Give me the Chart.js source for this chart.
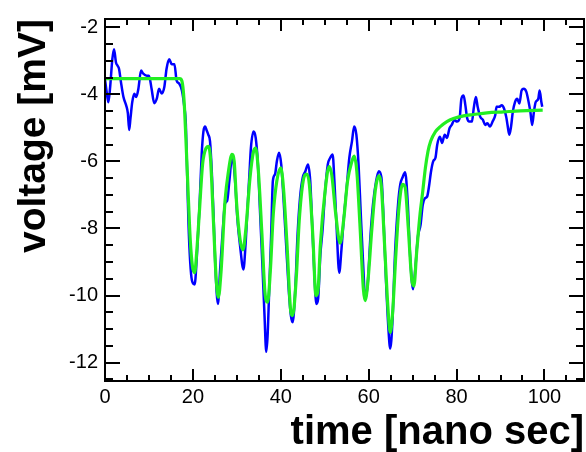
<!DOCTYPE html>
<html>
<head>
<meta charset="utf-8">
<script src="https://cdn.jsdelivr.net/npm/chart.js@4.4.1/dist/chart.umd.min.js"></script>
<style>
  html, body { margin: 0; padding: 0; background: #fff; }
  #wrap { width: 586px; height: 452px; }
</style>
</head>
<body>
<div id="wrap"><canvas id="chart"></canvas></div>
<script>
// measured pulse (blue)
const blueTime = [0, 0.4, 0.76, 1.14, 1.67, 2.05, 2.5, 2.9, 3.2, 3.64, 4.2, 4.8, 5.2, 5.5, 5.8, 6.2, 6.7, 7.1, 7.6, 8.2,
  8.7, 9.5, 10, 10.6, 11.2, 11.8, 12.3, 12.9, 13.5, 14, 14.6, 15.2, 15.8, 16.3, 16.9, 17.5, 18, 18.4, 18.7, 19,
  19.4, 19.8, 20.4, 20.9, 21.5, 22, 22.4, 22.8, 23.1, 23.5, 23.9, 24.3, 24.7, 25.1, 25.7, 26.2, 26.8, 27.3, 27.8, 28.3,
  28.9, 29.2, 29.7, 30.1, 30.75, 31.5, 32, 32.4, 32.9, 33.2, 33.8, 34.3, 34.8, 35.3, 35.8, 36.3, 36.7, 37, 37.4, 37.8,
  38.2, 38.7, 39.1, 39.6, 40.1, 40.6, 41.2, 41.8, 42.3, 42.7, 43.3, 43.8, 44.4, 45, 45.6, 46.2, 46.7, 47.2, 47.7, 48.1,
  48.5, 49, 49.5, 50.1, 50.7, 51.25, 51.8, 52.2, 52.7, 53.3, 53.8, 54.3, 55, 55.6, 56.2, 56.7, 57.2, 57.7, 58.2, 58.8,
  59.2, 59.8, 60.4, 61, 61.7, 62.3, 62.9, 63.4, 63.9, 64.5, 64.9, 65.4, 66, 66.7, 67.2, 67.7, 68.3, 68.9, 69.4, 70.1,
  70.6, 71.2, 71.8, 72.3, 72.8, 73.3, 73.7, 74.2, 74.7, 75.2, 75.6, 76.2, 76.7, 77.3, 77.8, 78.4, 78.9, 79.5, 80.1, 80.7,
  81.1, 81.6, 82, 82.4, 82.9, 83.5, 83.9, 84.4, 84.8, 85.4, 86, 86.5, 87, 87.6, 88.2, 88.8, 89.1, 89.7, 90.3, 90.8,
  91.3, 91.6, 92, 92.4, 92.8, 93.3, 93.8, 94.3, 94.8, 95.3, 95.9, 96.4, 96.8, 97.2, 97.6, 98, 98.6, 98.9, 99.3, 99.5];
const blueVolt = [-3.55, -3.95, -4.23, -3.83, -2.95, -2.65, -3.05, -3.15, -3.24, -3.64, -4.08, -4.32, -4.56, -5.06, -4.71, -4.23, -3.98, -4.08, -3.83, -3.29,
  -3.38, -3.44, -3.44, -3.83, -4.26, -4.12, -3.83, -3.97, -3.78, -3.24, -2.95, -3.1, -3.1, -3.59, -3.68, -3.88, -4.32, -4.9, -6.4, -7.86,
  -9.03, -9.56, -9.67, -8.83, -7.36, -5.79, -5.1, -4.96, -5.06, -5.2, -5.4, -6.3, -7.6, -9.1, -10.25, -9.22, -8.05, -7.26, -7.17, -6.58,
  -5.89, -5.99, -6.77, -7.66, -8.53, -9.22, -8.44, -7.46, -6.29, -5.6, -5.11, -5.3, -6.09, -7.56, -9.03, -10.6, -11.68, -11.2, -9.7, -8.24,
  -6.58, -6.38, -6.0, -5.74, -6.09, -7.06, -8.44, -9.81, -10.6, -10.8, -9.81, -8.24, -7.06, -6.48, -6.29, -6.09, -6.58, -8.05, -9.52, -10.25,
  -10.1, -8.8, -8.05, -6.87, -6.09, -5.89, -5.79, -6.58, -7.95, -9.32, -8.64, -7.76, -6.77, -5.89, -5.4, -4.96, -5.2, -6.09, -7.56, -9.22,
  -10.1, -9.62, -8.24, -7.26, -6.58, -6.29, -6.48, -7.76, -9.42, -11.0, -11.58, -10.8, -8.74, -7.26, -6.68, -6.48, -6.32, -7.26, -8.74, -9.81,
  -9.22, -8.24, -7.9, -7.3, -7.1, -7.05, -6.77, -6.29, -5.99, -5.89, -5.5, -5.26, -5.45, -5.2, -5.3, -5.01, -4.91, -4.76, -4.81, -4.7,
  -4.13, -4.03, -4.32, -4.7, -4.81, -4.81, -4.42, -4.08, -4.37, -4.67, -4.76, -4.91, -4.86, -4.96, -4.81, -4.62, -4.37, -4.37, -4.32, -4.42,
  -4.67, -4.91, -5.2, -4.96, -4.52, -4.23, -4.13, -4.27, -3.88, -3.83, -3.93, -4.23, -4.52, -4.91, -4.52, -4.23, -4.13, -3.88, -4.23, -4.37];

// fitted curve (green)
const fitTime = [0, 17.0, 17.5, 18.0, 18.4, 18.9, 19.4, 19.9, 20.4, 20.9, 21.5, 22.2, 23.0, 23.5, 24.0, 24.7, 25.3, 25.8, 26.4, 27.3,
  28.1, 28.9, 29.4, 29.95, 30.75, 31.4, 32.1, 33.0, 33.8, 34.3, 34.9, 35.7, 36.4, 37.0, 37.6, 38.3, 39.1, 40.0, 40.6, 41.4,
  42.3, 42.7, 43.5, 44.2, 45.1, 45.9, 46.5, 47.3, 48.0, 48.5, 49.0, 50.1, 51.0, 51.6, 52.5, 53.5, 54.3, 55.2, 56.2, 56.7,
  57.3, 58.0, 58.8, 59.2, 59.8, 60.7, 61.5, 62.3, 62.9, 63.6, 64.4, 64.9, 65.4, 66.2, 66.9, 67.7, 68.3, 69.0, 69.8, 70.3,
  70.9, 71.7, 72.3, 72.9, 73.5, 74.1, 75.2, 76.3, 77.8, 79.3, 81.6, 83.9, 86.9, 90.7, 94.5, 99.6];
const fitVolt = [-3.53, -3.53, -3.6, -4.2, -5.3, -6.87, -8.34, -9.13, -9.32, -8.64, -7.46, -6.09, -5.6, -5.55, -5.9, -7.85, -9.5, -10.05, -9.3, -7.2,
  -6.29, -5.79, -6.0, -7.26, -8.34, -8.64, -7.95, -6.48, -5.7, -5.6, -6.29, -8.15, -9.91, -10.2, -9.32, -7.56, -6.58, -6.19, -6.77, -8.44,
  -10.5, -10.6, -9.52, -7.76, -6.58, -6.38, -6.68, -8.24, -10.0, -9.8, -8.5, -6.87, -6.15, -6.4, -7.56, -8.44, -7.76, -6.58, -5.99, -5.84,
  -6.29, -7.85, -9.81, -10.15, -9.62, -8.05, -6.87, -6.43, -6.77, -8.44, -10.4, -11.1, -10.6, -8.74, -7.36, -6.68, -6.77, -7.95, -9.52, -9.72,
  -8.74, -7.56, -6.9, -6.2, -5.7, -5.4, -5.11, -4.96, -4.81, -4.72, -4.64, -4.6, -4.55, -4.52, -4.49, -4.47];

const xTickLabels = [0, 20, 40, 60, 80, 100];
const yTickLabels = [-12, -10, -8, -6, -4, -2];

const toPoints = (xs, ys) => xs.map((t, i) => ({ x: t, y: ys[i] }));

// ROOT style frame: box with ticks pointing inwards on all four sides
const frameTicks = {
  id: 'frameTicks',
  afterDatasetsDraw(chart) {
    const { ctx, chartArea: a, scales: { x, y } } = chart;
    ctx.save();
    ctx.strokeStyle = '#000';
    ctx.lineWidth = 2;
    ctx.strokeRect(a.left, a.top, a.right - a.left, a.bottom - a.top);
    ctx.beginPath();
    for (let v = 0; v <= x.max; v += 5) {
      const px = Math.round(x.getPixelForValue(v));
      const len = v % 20 === 0 ? 12 : 6;
      ctx.moveTo(px, a.bottom); ctx.lineTo(px, a.bottom - len);
      ctx.moveTo(px, a.top); ctx.lineTo(px, a.top + len);
    }
    for (let v = -12.5; v <= y.max; v += 0.5) {
      const py = Math.round(y.getPixelForValue(v));
      const len = Math.abs(v % 2) < 1e-6 ? 15 : 8;
      ctx.moveTo(a.left, py); ctx.lineTo(a.left + len, py);
      ctx.moveTo(a.right, py); ctx.lineTo(a.right - len, py);
    }
    ctx.stroke();
    ctx.restore();
  }
};

const tickFont = { family: "'Liberation Sans', Arial, sans-serif", size: 20 };
const xTitleFont = { family: "'Liberation Sans', Arial, sans-serif", size: 40, weight: 'bold', lineHeight: 1 };
const yTitleFont = { family: "'Liberation Sans', Arial, sans-serif", size: 39, weight: 'bold', lineHeight: 1 };

new Chart(document.getElementById('chart'), {
  type: 'line',
  data: {
    datasets: [
      {
        label: 'fit',
        data: toPoints(fitTime, fitVolt),
        borderColor: '#22ee22',
        borderWidth: 3.2,
        pointRadius: 0,
        cubicInterpolationMode: 'monotone',
        order: 0
      },
      {
        label: 'signal',
        data: toPoints(blueTime, blueVolt),
        borderColor: '#0000ff',
        borderWidth: 2.5,
        pointRadius: 0,
        cubicInterpolationMode: 'monotone',
        order: 1
      }
    ]
  },
  options: {
    responsive: true,
    maintainAspectRatio: false,
    animation: false,
    layout: { padding: { top: 13, right: 2, left: 0, bottom: 0 } },
    plugins: { legend: { display: false }, tooltip: { enabled: false } },
    scales: {
      x: {
        type: 'linear',
        min: 0,
        max: 109,
        grid: { display: false, drawTicks: false },
        border: { display: false },
        ticks: { font: tickFont, color: '#000', padding: 4, maxRotation: 0, autoSkip: false },
        afterBuildTicks: s => { s.ticks = xTickLabels.map(v => ({ value: v })); },
        afterFit: s => { s.height = 71; },
        title: { display: true, text: 'time [nano sec]', align: 'end', color: '#000', font: xTitleFont, padding: { top: 0, bottom: -1 } }
      },
      y: {
        type: 'linear',
        min: -12.55,
        max: -1.75,
        grid: { display: false, drawTicks: false },
        border: { display: false },
        ticks: { font: tickFont, color: '#000', padding: 7, autoSkip: false },
        afterBuildTicks: s => { s.ticks = yTickLabels.map(v => ({ value: v })); },
        afterFit: s => { s.width = 105; },
        title: { display: true, text: 'voltage [mV]', align: 'end', color: '#000', font: yTitleFont, padding: { top: 15, bottom: 0 } }
      }
    }
  },
  plugins: [frameTicks]
});
</script>
</body>
</html>
